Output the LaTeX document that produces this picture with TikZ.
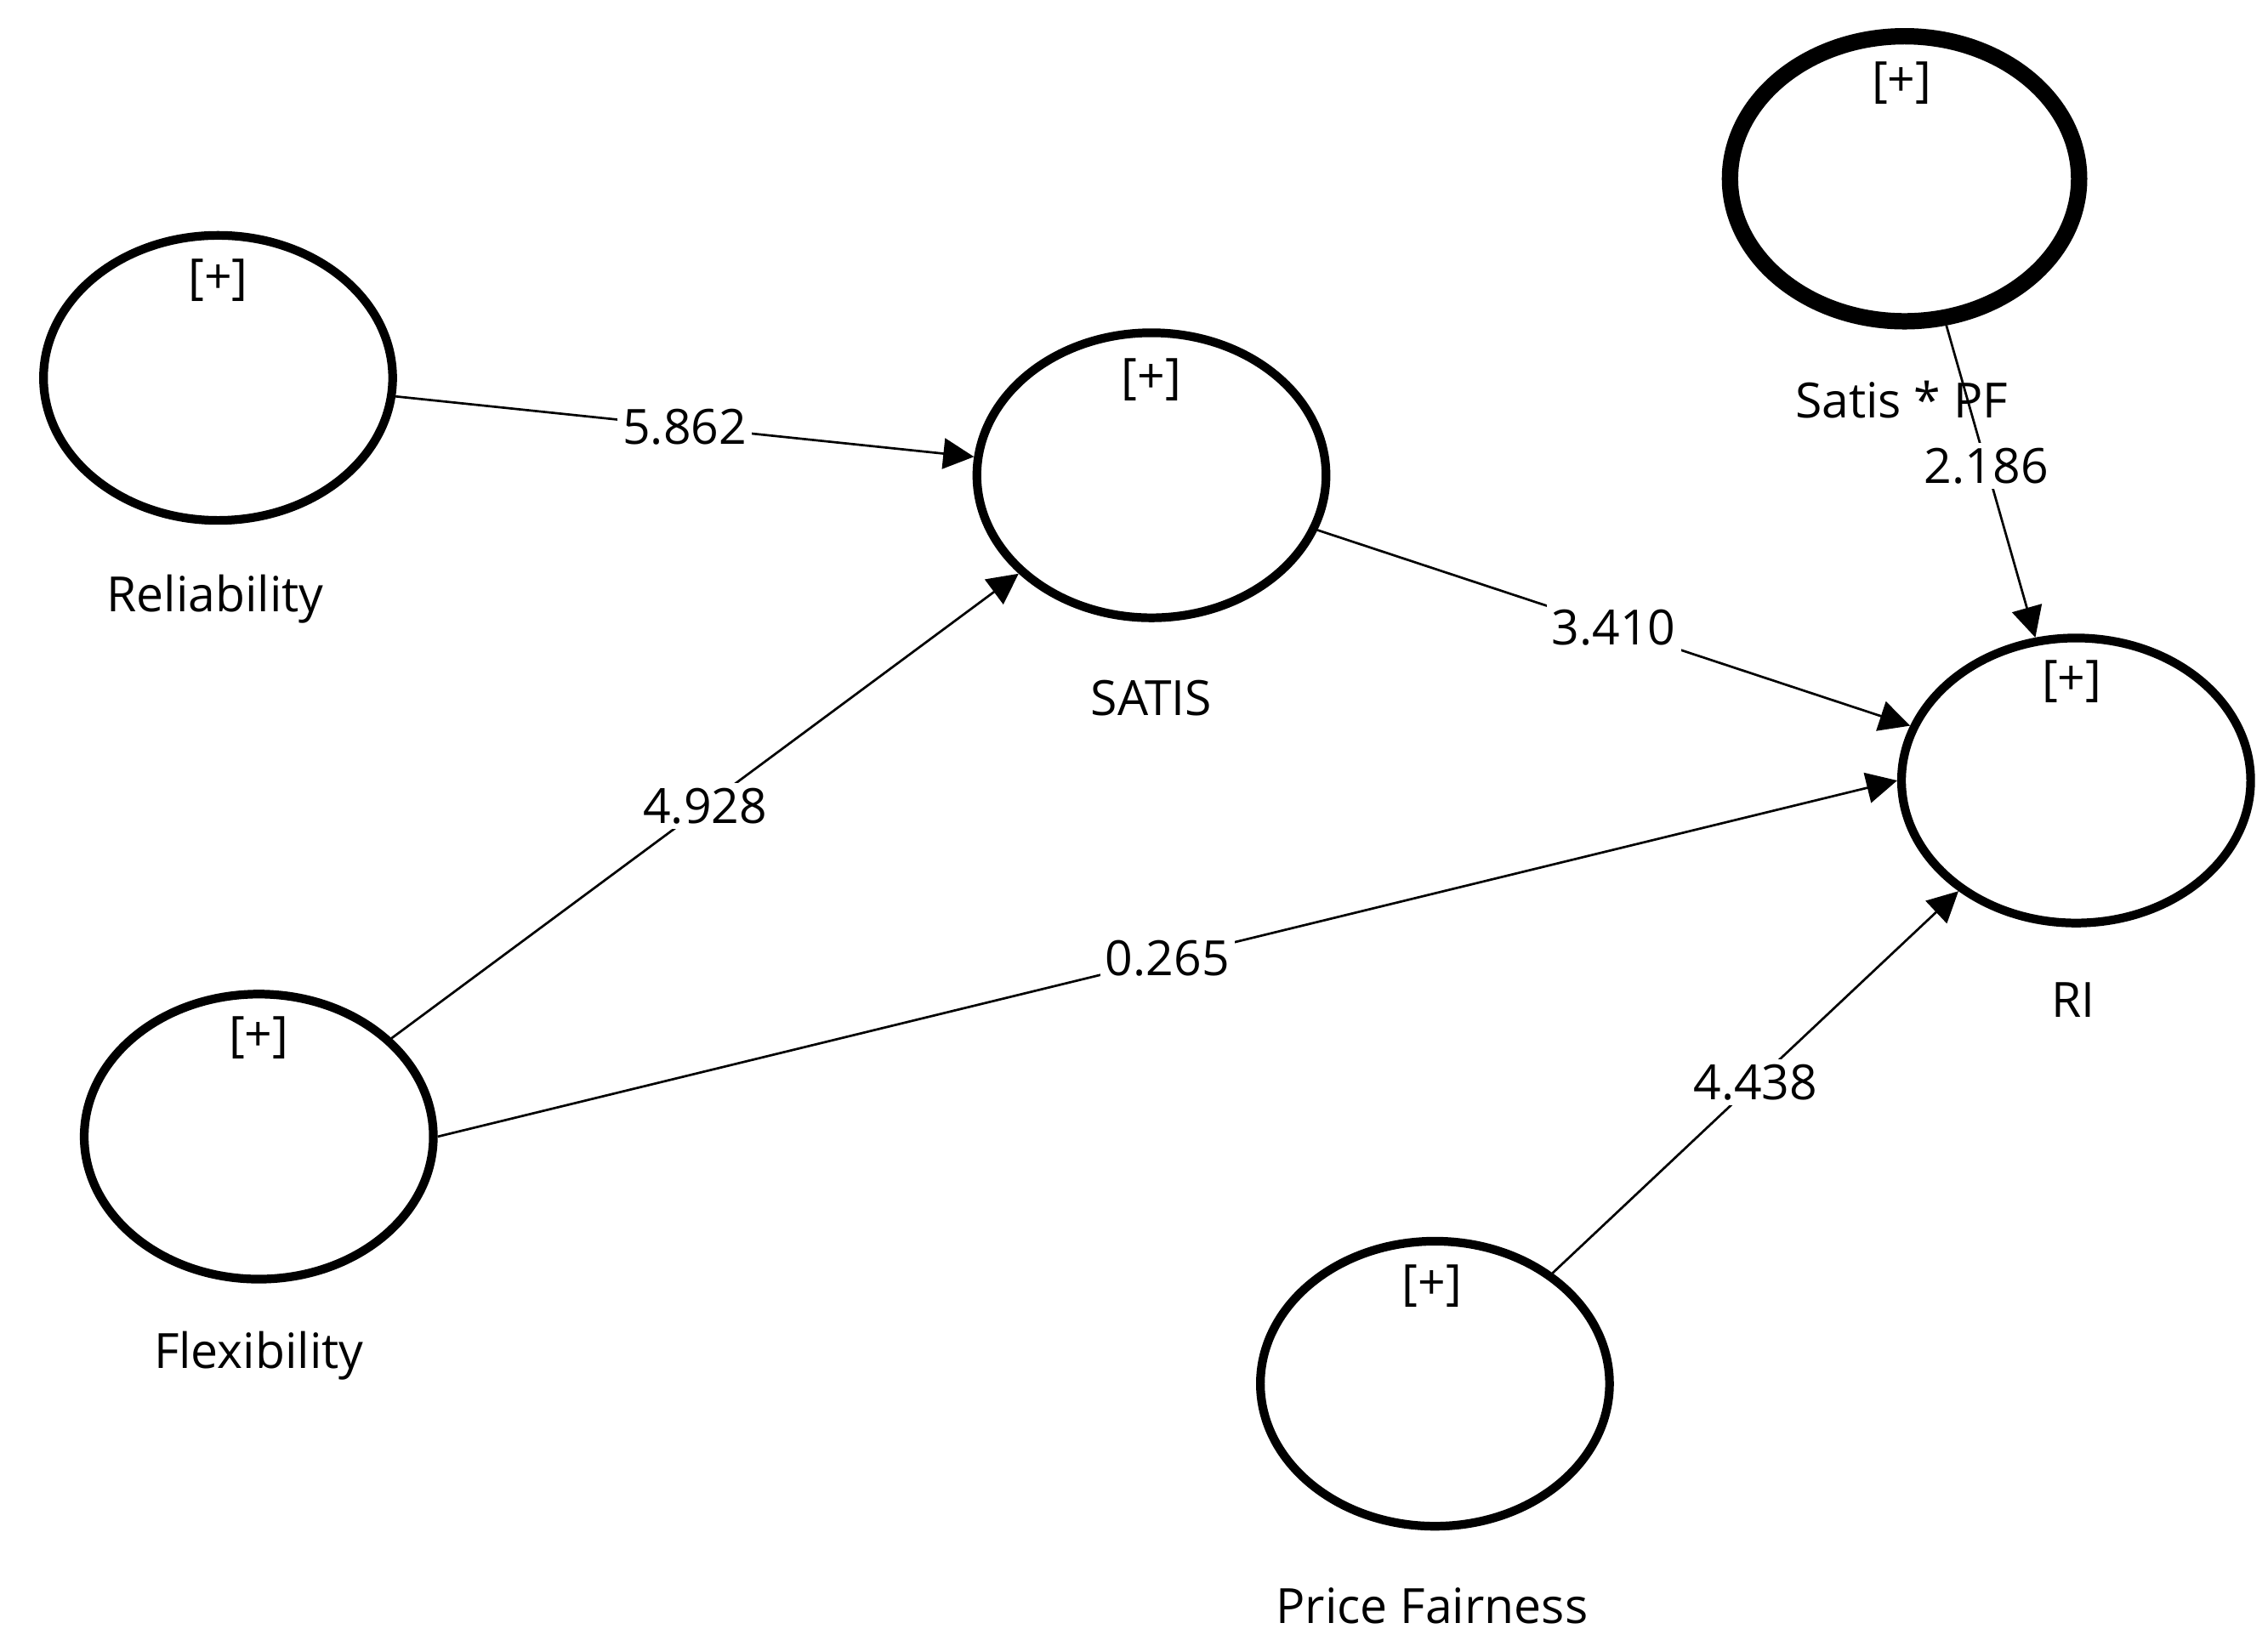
\documentclass[tikz,border=0pt]{standalone}
\usepackage{fontspec}
\setmainfont{Open Sans}
\usetikzlibrary{shapes.geometric,arrows.meta}
\begin{document}
\begin{tikzpicture}[x=0.01cm,y=-0.01cm,
  lv/.style={ellipse,draw,line width=1.7pt,minimum width=2.4cm,minimum height=1.96cm,inner sep=0pt},
  plus/.style={font=\fontsize{9.5}{11}\selectfont},
  nm/.style={font=\fontsize{9.5}{11}\selectfont},
  ar/.style={-{Triangle[length=6pt,width=6pt]},line width=0.45pt},
  el/.style={fill=white,inner sep=1pt,font=\fontsize{9.5}{11}\selectfont}]
\useasboundingbox (0,0) rectangle (1560,1128);
\node[lv] (rel) at (150,260) {};
\node[lv] (sat) at (792,327) {};
\node[lv,line width=3.2pt] (spf) at (1310,123) {};
\node[lv] (ri) at (1428,537) {};
\node[lv] (flex) at (178,782) {};
\node[lv] (pf) at (987,952) {};
\foreach \n/\x/\y in {rel/150/193,sat/792/261,spf/1308/57,ri/1425/469,flex/178/714,pf/985/885}
  \node[plus] (p\n) at (\x,\y) {[+]};
\node[nm] (lrel) at (148,412) {Reliability};
\node[nm] (lsat) at (792,480) {SATIS};
\node[nm] (lspf) at (1308,275) {Satis * PF};
\node[nm] (lri) at (1426,688) {RI};
\node[nm] (lflex) at (178,933) {Flexibility};
\node[nm] (lpf) at (985,1105) {Price Fairness};
\draw[ar] (rel) -- node[el,pos=0.5] {5.862} (sat);
\draw[ar] (flex) -- node[el,pos=0.5] {4.928} (sat);
\draw[ar] (sat) -- node[el,pos=0.5] {3.410} (ri);
\draw[ar] (flex.east) -- node[el,pos=0.5] {0.265} (ri.west);
\draw[ar] (spf) -- node[el,pos=0.45] {2.186} (ri);
\draw[ar] (pf) -- node[el,pos=0.5] {4.438} (ri);
\end{tikzpicture}
\end{document}
